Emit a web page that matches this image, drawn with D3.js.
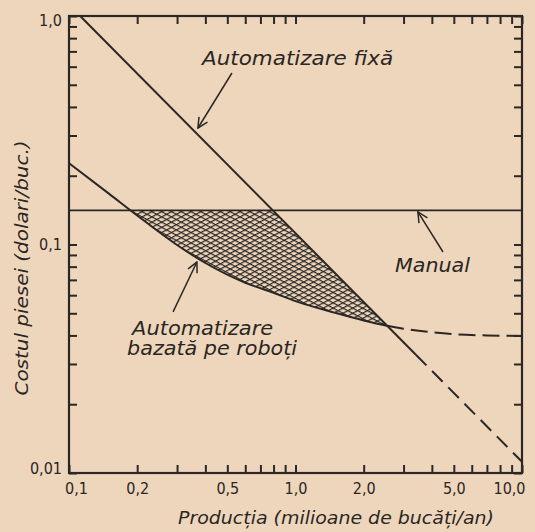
<!DOCTYPE html>
<html>
<head>
<meta charset="utf-8">
<script src="https://cdn.jsdelivr.net/npm/d3@7"></script>
<style>
  html, body { margin: 0; padding: 0; background: #eed6bd; }
  svg { display: block; }
  .lbl { font-family: "DejaVu Sans Condensed", "Liberation Sans Narrow", "DejaVu Sans", sans-serif; fill: #2a2622; }
</style>
</head>
<body>
<script>
// ---- data ----
const xTickValues = [0.1,0.2,0.3,0.4,0.5,0.6,0.7,0.8,0.9,1,2,3,4,5,6,7,8,9,10];
const xTickLabels = {0.1:"0,1", 0.2:"0,2", 0.5:"0,5", 1:"1,0", 2:"2,0", 5:"5,0", 10:"10,0"};
const yTickValues = [0.01,0.02,0.03,0.04,0.05,0.06,0.07,0.08,0.09,0.1,0.2,0.3,0.4,0.5,0.6,0.7,0.8,0.9,1];
const yTickLabels = {0.01:"0,01", 0.1:"0,1", 1:"1,0"};

const manualCost = 0.141;                       // Manual (horizontal)
const fixedX = [0.112, 10];                     // Automatizare fixă
const fixedY = [1.0, 0.0112];
const fixedSolidEnd = 3.4;
const robotX = [0.1, 0.15, 0.2, 0.3, 0.4, 0.6, 0.8, 1.0, 1.5, 2.0, 2.5, 3.0, 4.0, 5.0, 7.0, 10.0];
const robotY = [0.227, 0.167, 0.134, 0.0995, 0.083, 0.068, 0.0615, 0.0565, 0.0502, 0.0465, 0.0442, 0.0428, 0.0413, 0.0405, 0.0400, 0.0398];
const robotSolidEnd = 2.55;

const xLabel = "Producția (milioane de bucăți/an)";
const yLabel = "Costul piesei (dolari/buc.)";

// ---- layout ----
const W = 535, H = 532;
const M = {left: 69, right: 522, top: 16, bottom: 473};
const ink = "#2b2724";

const svg = d3.select("body").append("svg").attr("width", W).attr("height", H);

const x = d3.scaleLog().domain([0.1, 10]).range([M.left, M.right]);
const y = d3.scaleLog().domain([0.01, 1]).range([M.bottom, M.top]);

// hatch patterns
const defs = svg.append("defs");
[[28, "hA"], [-28, "hB"]].forEach(([ang, id]) => {
  const p = defs.append("pattern").attr("id", id).attr("patternUnits", "userSpaceOnUse")
    .attr("width", 10).attr("height", 4.6).attr("patternTransform", `rotate(${ang})`);
  p.append("line").attr("x1", 0).attr("x2", 10).attr("y1", 0.6).attr("y2", 0.6)
    .attr("stroke", ink).attr("stroke-width", 1.2);
});
defs.append("marker").attr("id", "arr").attr("viewBox", "0 0 12 12")
  .attr("refX", 11).attr("refY", 6).attr("markerWidth", 12).attr("markerHeight", 12)
  .attr("markerUnits", "userSpaceOnUse").attr("orient", "auto")
  .append("path").attr("d", "M1,1 L11,6 L1,11").attr("fill", "none")
  .attr("stroke", ink).attr("stroke-width", 1.5);

// robot data
const robot = robotX.map((v, i) => ({x: v, y: robotY[i]}));
const line = d3.line().x(d => x(d.x)).y(d => y(d.y)).curve(d3.curveMonotoneX);

// clip under min(manual, fixed)
const fixedAt = v => fixedY[0] * Math.pow(v / fixedX[0], Math.log(fixedY[1] / fixedY[0]) / Math.log(fixedX[1] / fixedX[0]));
const samples = d3.range(0, 201).map(i => 0.1 * Math.pow(100, i / 200));
const upper = samples.map(v => [x(v), y(Math.min(manualCost, fixedAt(v)))]);
const clipPts = upper.concat([[M.right, M.bottom], [M.left, M.bottom]]);
defs.append("clipPath").attr("id", "underTop").append("path")
  .attr("d", "M" + clipPts.map(p => p.join(",")).join("L") + "Z");

const area = d3.area().x(d => x(d.x)).y0(M.top).y1(d => y(d.y)).curve(d3.curveMonotoneX);
["hA", "hB"].forEach(id => {
  svg.append("path").datum(robot).attr("d", area).attr("fill", `url(#${id})`)
    .attr("clip-path", "url(#underTop)");
});

// clips for solid/dashed split
defs.append("clipPath").attr("id", "robotSolid").append("rect")
  .attr("x", 0).attr("y", 0).attr("width", x(robotSolidEnd)).attr("height", H);
defs.append("clipPath").attr("id", "robotDash").append("rect")
  .attr("x", x(robotSolidEnd)).attr("y", 0).attr("width", W).attr("height", H);

svg.append("path").datum(robot).attr("d", line).attr("fill", "none")
  .attr("stroke", ink).attr("stroke-width", 2).attr("clip-path", "url(#robotSolid)");
svg.append("path").datum(robot.filter(d => d.x >= 2)).attr("d", line).attr("fill", "none")
  .attr("stroke", ink).attr("stroke-width", 2).attr("stroke-dasharray", "17,7")
  .attr("clip-path", "url(#robotDash)");

// fixed automation line
svg.append("line").attr("x1", x(fixedX[0])).attr("y1", y(fixedY[0]))
  .attr("x2", x(fixedSolidEnd)).attr("y2", y(fixedAt(fixedSolidEnd)))
  .attr("stroke", ink).attr("stroke-width", 2);
svg.append("line").attr("x1", x(fixedSolidEnd)).attr("y1", y(fixedAt(fixedSolidEnd)))
  .attr("x2", x(fixedX[1])).attr("y2", y(fixedY[1]))
  .attr("stroke", ink).attr("stroke-width", 2).attr("stroke-dasharray", "15,8");

// manual line
svg.append("line").attr("x1", M.left).attr("x2", M.right)
  .attr("y1", y(manualCost)).attr("y2", y(manualCost))
  .attr("stroke", ink).attr("stroke-width", 1.8);

// axes
function styleAxis(g) {
  g.select(".domain").remove();
  g.selectAll(".tick line").attr("stroke", ink).attr("stroke-width", 2);
  g.selectAll("text").attr("class", "lbl").style("font-size", "16px").attr("fill", ink);
}
svg.append("g").attr("transform", `translate(0,${M.bottom})`)
  .call(d3.axisBottom(x).tickValues(xTickValues).tickSizeInner(-8).tickSizeOuter(0).tickPadding(10)
    .tickFormat(d => xTickLabels[d] || ""))
  .call(styleAxis)
  .call(g => g.selectAll("text").attr("dx", d => d === 0.1 ? 7 : (d === 10 ? -13 : 0)));
svg.append("g").attr("transform", `translate(0,${M.top})`)
  .call(d3.axisTop(x).tickValues(xTickValues).tickSizeInner(-8).tickSizeOuter(0).tickFormat(""))
  .call(styleAxis);
svg.append("g").attr("transform", `translate(${M.left},0)`)
  .call(d3.axisLeft(y).tickValues(yTickValues).tickSizeInner(-8).tickSizeOuter(0).tickPadding(7)
    .tickFormat(d => yTickLabels[d] || ""))
  .call(styleAxis)
  .call(g => g.selectAll("text").attr("dy", d => d === 1 ? "0.6em" : (d === 0.01 ? "0em" : "0.32em")));
svg.append("g").attr("transform", `translate(${M.right},0)`)
  .call(d3.axisRight(y).tickValues(yTickValues).tickSizeInner(-8).tickSizeOuter(0).tickFormat(""))
  .call(styleAxis);

// frame
svg.append("rect").attr("x", M.left).attr("y", M.top)
  .attr("width", M.right - M.left).attr("height", M.bottom - M.top)
  .attr("fill", "none").attr("stroke", ink).attr("stroke-width", 2.2);

// axis titles
svg.append("text").attr("class", "lbl").attr("x", 336).attr("y", 524)
  .attr("text-anchor", "middle").style("font-size", "17px").style("font-style", "italic")
  .attr("textLength", 316).attr("lengthAdjust", "spacingAndGlyphs").text(xLabel);
svg.append("text").attr("class", "lbl")
  .attr("transform", "translate(28,268) rotate(-90)")
  .attr("text-anchor", "middle").style("font-size", "17px").style("font-style", "italic")
  .attr("textLength", 255).attr("lengthAdjust", "spacingAndGlyphs").text(yLabel);

// annotations (data coordinates)
const notes = [
  {lines: ["Automatizare fixă"], x: 0.387, y: 0.610, len: [191], tail: [0.524, 0.563], head: [0.371, 0.3235]},
  {lines: ["Manual"], x: 2.75, y: 0.0758, len: [75], tail: [4.48, 0.0927], head: [3.47, 0.1388]},
  {lines: ["Automatizare", "bazată pe roboți"], x: 0.190, y: 0.0402, len: [141, 170], dx: [0, -5], tail: [0.288, 0.0507], head: [0.367, 0.0838]}
];
notes.forEach(n => {
  n.lines.forEach((t, i) => {
    svg.append("text").attr("class", "lbl")
      .attr("x", x(n.x) + (n.dx ? n.dx[i] : 0)).attr("y", y(n.y) + i * 20)
      .style("font-size", "19px").style("font-style", "italic")
      .attr("textLength", n.len[i]).attr("lengthAdjust", "spacingAndGlyphs").text(t);
  });
  svg.append("line").attr("x1", x(n.tail[0])).attr("y1", y(n.tail[1]))
    .attr("x2", x(n.head[0])).attr("y2", y(n.head[1]))
    .attr("stroke", ink).attr("stroke-width", 1.5).attr("marker-end", "url(#arr)");
});
</script>
</body>
</html>
